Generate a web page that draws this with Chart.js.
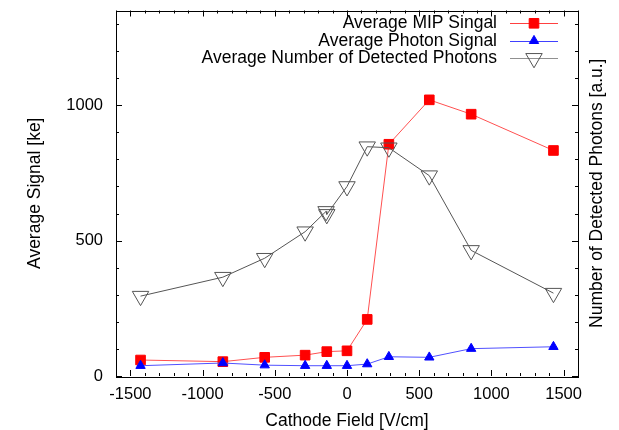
<!DOCTYPE html>
<html>
<head>
<meta charset="utf-8">
<script src="https://cdn.jsdelivr.net/npm/chart.js@4/dist/chart.umd.min.js"></script>
<style>
  html, body { margin: 0; padding: 0; background: #fff; }
  #wrap { width: 619px; height: 430px; }
</style>
</head>
<body>
<div id="wrap"><canvas id="signalChart"></canvas></div>
<script>
// field values [V/cm]
const fieldMIP = [-1430, -860, -570, -290, -140, 0, 140, 290, 570, 860, 1430];
const mipSignal = [59, 53, 69, 77, 90, 93, 209, 856, 1020, 967, 833];
const photonSignal = [38, 48, 40, 38, 38, 38, 44, 71, 69, 101, 108];

// detected photons (right axis, no labels) - two points near -140
const fieldPhotons = [-1430, -860, -570, -290, -145, -140, 0, 140, 290, 570, 860, 1430];
const detectedPhotons = [295, 365, 435, 533, 608, 597, 700, 847, 843, 740, 464, 306];

const xTicks = [-1500, -1000, -500, 0, 500, 1000, 1500];
const yTicks = [0, 500, 1000];

const seriesNames = ['Average MIP Singal', 'Average Photon Signal', 'Average Number of Detected Photons'];

const FONT = '"Liberation Sans", Arial, sans-serif';
const TEXT_SIZE = 17.5;
const TICK_SIZE = 16.5;

const toPoints = (xs, ys) => xs.map((x, i) => ({ x: x, y: ys[i] }));

// ticks pointing inwards on all four sides, like gnuplot
const frameTicks = {
    id: 'frameTicks',
    afterDatasetsDraw(chart) {
        const { ctx, chartArea: a, scales } = chart;
        const x = scales.x, y = scales.y;
        ctx.save();
        ctx.strokeStyle = '#000';
        ctx.lineWidth = 1;
        ctx.beginPath();
        for (let v = -1600; v <= 1600; v += 100) {
            const px = Math.round(x.getPixelForValue(v)) + 0.5;
            const len = v % 500 === 0 ? 6 : 3;
            ctx.moveTo(px, a.bottom); ctx.lineTo(px, a.bottom - len);
            ctx.moveTo(px, a.top); ctx.lineTo(px, a.top + len);
        }
        for (let v = 0; v <= 1300; v += 100) {
            const py = Math.round(y.getPixelForValue(v)) + 0.5;
            const len = v % 500 === 0 ? 6 : 3;
            ctx.moveTo(a.left, py); ctx.lineTo(a.left + len, py);
            ctx.moveTo(a.right, py); ctx.lineTo(a.right - len, py);
        }
        ctx.stroke();
        ctx.strokeRect(Math.round(a.left) + 0.5, Math.round(a.top) + 0.5,
            Math.round(a.right - a.left), Math.round(a.bottom - a.top));
        ctx.restore();
    }
};

// legend inside the frame, text right aligned left of the sample
const keyBox = {
    id: 'keyBox',
    afterDraw(chart) {
        const ctx = chart.ctx;
        const textRight = 497, lineL = 510, lineR = 558, rowY = [23.3, 40.8, 58.3];
        ctx.save();
        ctx.font = TEXT_SIZE + 'px ' + FONT;
        ctx.textAlign = 'right';
        ctx.textBaseline = 'middle';
        chart.data.datasets.forEach(ds => {
            const yy = rowY[ds.keyRow];
            ctx.fillStyle = '#000';
            ctx.fillText(ds.label, textRight, yy);
            ctx.strokeStyle = ds.keyLine;
            ctx.lineWidth = 1;
            ctx.beginPath();
            ctx.moveTo(lineL, Math.round(yy) + 0.5);
            ctx.lineTo(lineR, Math.round(yy) + 0.5);
            ctx.stroke();
            ctx.fillStyle = ds.pointBackgroundColor;
            ctx.strokeStyle = ds.pointBorderColor;
            ctx.lineWidth = ds.pointBorderWidth;
            Chart.helpers.drawPoint(ctx, {
                pointStyle: ds.pointStyle,
                rotation: ds.pointRotation || 0,
                radius: ds.pointRadius,
                borderWidth: ds.pointBorderWidth
            }, (lineL + lineR) / 2, yy);
        });
        ctx.restore();
    }
};

// right axis title reads bottom to top
const rightTitle = {
    id: 'rightTitle',
    afterDraw(chart) {
        const ctx = chart.ctx, a = chart.chartArea;
        ctx.save();
        ctx.translate(597, (a.top + a.bottom) / 2);
        ctx.rotate(-Math.PI / 2);
        ctx.font = TEXT_SIZE + 'px ' + FONT;
        ctx.fillStyle = '#000';
        ctx.textAlign = 'center';
        ctx.textBaseline = 'middle';
        ctx.fillText('Number of Detected Photons [a.u.]', 0, 0);
        ctx.restore();
    }
};

const noPad = s => { s.paddingTop = 0; s.paddingBottom = 0; s.paddingLeft = 0; s.paddingRight = 0; };

const ctx = document.getElementById('signalChart').getContext('2d');

const signalChart = new Chart(ctx, {
    type: 'scatter',
    data: {
        datasets: [{
            label: seriesNames[0],
            keyRow: 0,
            keyLine: '#ff4040',
            data: toPoints(fieldMIP, mipSignal),
            showLine: true,
            borderColor: '#ff5050',
            borderWidth: 1,
            pointStyle: 'rect',
            pointRadius: 6.8,
            pointHoverRadius: 6.8,
            pointBackgroundColor: '#ff0000',
            pointBorderColor: '#ff0000',
            pointBorderWidth: 1,
            order: 3
        }, {
            label: seriesNames[1],
            keyRow: 1,
            keyLine: '#4040ff',
            data: toPoints(fieldMIP, photonSignal),
            showLine: true,
            borderColor: '#5050ff',
            borderWidth: 1,
            pointStyle: 'triangle',
            pointRadius: 5.4,
            pointHoverRadius: 5.4,
            pointBackgroundColor: '#0000ff',
            pointBorderColor: '#0000ff',
            pointBorderWidth: 1,
            order: 2
        }, {
            label: seriesNames[2],
            keyRow: 2,
            keyLine: '#909090',
            data: toPoints(fieldPhotons, detectedPhotons),
            showLine: true,
            borderColor: '#555555',
            borderWidth: 1,
            pointStyle: 'triangle',
            pointRotation: 180,
            pointRadius: 9.5,
            pointHoverRadius: 9.5,
            pointBackgroundColor: 'rgba(255,255,255,0)',
            pointBorderColor: '#555555',
            pointBorderWidth: 1,
            order: 1
        }]
    },
    options: {
        responsive: true,
        maintainAspectRatio: false,
        animation: false,
        events: [],
        layout: { padding: { top: 9, left: 0, right: 0, bottom: 0 } },
        plugins: {
            legend: { display: false },
            tooltip: { enabled: false }
        },
        scales: {
            x: {
                type: 'linear',
                min: -1600,
                max: 1600,
                afterBuildTicks: s => { s.ticks = xTicks.map(v => ({ value: v })); },
                afterFit: s => { s.height = 54; noPad(s); },
                grid: { display: false, drawTicks: false },
                border: { display: false },
                ticks: {
                    color: '#000',
                    padding: 9,
                    maxRotation: 0,
                    callback: v => String(v),
                    font: { family: FONT, size: TICK_SIZE }
                },
                title: {
                    display: true,
                    text: 'Cathode Field [V/cm]',
                    color: '#000',
                    padding: 0,
                    font: { family: FONT, size: TEXT_SIZE, lineHeight: 1 }
                }
            },
            y: {
                type: 'linear',
                position: 'left',
                min: 0,
                max: 1350,
                afterBuildTicks: s => { s.ticks = yTicks.map(v => ({ value: v })); },
                afterFit: s => { s.width = 116; noPad(s); },
                grid: { display: false, drawTicks: false },
                border: { display: false },
                ticks: {
                    color: '#000',
                    padding: 13,
                    callback: v => String(v),
                    font: { family: FONT, size: TICK_SIZE }
                },
                title: {
                    display: true,
                    text: 'Average Signal [ke]',
                    color: '#000',
                    padding: { top: 24.5, bottom: 0 },
                    font: { family: FONT, size: TEXT_SIZE }
                }
            },
            y2: {
                type: 'linear',
                position: 'right',
                min: 0,
                max: 1350,
                afterFit: s => { s.width = 41; noPad(s); },
                grid: { display: false, drawTicks: false },
                border: { display: false },
                ticks: { display: false }
            }
        }
    },
    plugins: [frameTicks, keyBox, rightTitle]
});
</script>
</body>
</html>
